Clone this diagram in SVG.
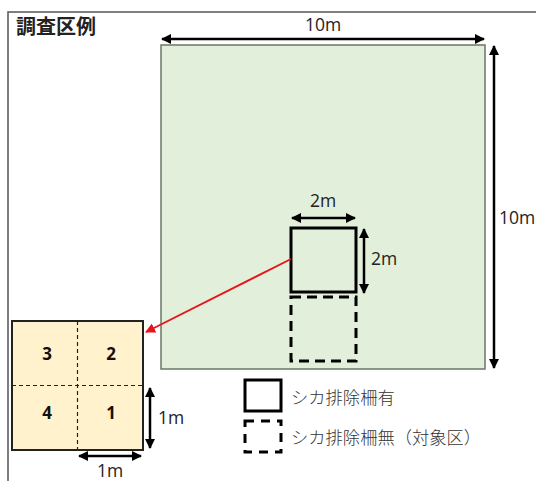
<svg xmlns="http://www.w3.org/2000/svg" width="536" height="481" viewBox="0 0 536 481">
<style>
.t{font-family:"Open Sans","Noto Sans","Noto Sans CJK JP",sans-serif;font-size:17.5px;fill:#222}
.j{font-family:"Noto Sans CJK JP",sans-serif;font-size:17.3px;font-weight:300;fill:#333}
.b{font-family:"Noto Sans","Noto Sans CJK JP",sans-serif;font-size:17px;font-weight:bold;fill:#111;text-anchor:middle}
.dim{stroke:#000;stroke-width:2.5;fill:none;marker-start:url(#ah);marker-end:url(#ah)}
</style>
<defs>
<marker id="ah" viewBox="0 0 10 10" refX="9" refY="5" markerWidth="4.4" markerHeight="4" orient="auto-start-reverse" markerUnits="strokeWidth"><path d="M0,0L10,5L0,10z" fill="#000"/></marker>
<marker id="ar" viewBox="0 0 10 10" refX="9" refY="5" markerWidth="10" markerHeight="10" orient="auto" markerUnits="userSpaceOnUse"><path d="M0,0L10,5L0,10z" fill="#e8141b"/></marker>
</defs>
<rect width="536" height="481" fill="#fff"/>
<path d="M8,490V12H545" fill="none" stroke="#555" stroke-width="1.5"/>
<text x="16" y="34" font-family="Noto Sans CJK JP,sans-serif" font-size="20" font-weight="bold" fill="#222">調査区例</text>
<g id="plot">
<rect x="161" y="45" width="324" height="324" fill="#e2efda" stroke="#6b7766" stroke-width="1.5"/>
</g>
<g id="fenced">
<rect x="291" y="228" width="65" height="64" fill="none" stroke="#000" stroke-width="3"/>
</g>
<g id="unfenced">
<rect x="291" y="297" width="65" height="64" fill="none" stroke="#000" stroke-width="3" stroke-dasharray="10,6"/>
</g>
<g id="quadrat">
<rect x="12" y="321" width="131" height="129" fill="#fff2cc" stroke="#222" stroke-width="2"/>
<line x1="77.5" y1="321" x2="77.5" y2="450" stroke="#222" stroke-width="1.2" stroke-dasharray="4,3"/>
<line x1="12" y1="385.5" x2="143" y2="385.5" stroke="#222" stroke-width="1.2" stroke-dasharray="4,3"/>
<text class="b" x="47" y="360">3</text>
<text class="b" x="111" y="360">2</text>
<text class="b" x="47" y="419">4</text>
<text class="b" x="111" y="419">1</text>
</g>
<g id="legend">
<rect x="245" y="380" width="36" height="31" fill="none" stroke="#000" stroke-width="3"/>
<rect x="245" y="421" width="36" height="31" fill="none" stroke="#000" stroke-width="3" stroke-dasharray="9,7"/>
<text class="j" x="291" y="404">シカ排除柵有</text>
<text class="j" x="291" y="444">シカ排除柵無（対象区）</text>
</g>
<g id="connectors">
<line class="dim" x1="162" y1="39" x2="484" y2="39"/>
<line class="dim" x1="494" y1="46" x2="494" y2="368"/>
<line class="dim" x1="292" y1="218" x2="355" y2="218"/>
<line class="dim" x1="364" y1="229" x2="364" y2="293"/>
<line class="dim" x1="150" y1="388" x2="150" y2="448"/>
<line class="dim" x1="79" y1="456" x2="141" y2="456"/>
<line x1="291" y1="259" x2="146" y2="332" stroke="#e8141b" stroke-width="1.8" marker-end="url(#ar)"/>
</g>
<g id="labels">
<text class="t" x="323" y="31" text-anchor="middle">10m</text>
<text class="t" x="499" y="224">10m</text>
<text class="t" x="323" y="207" text-anchor="middle">2m</text>
<text class="t" x="371" y="265">2m</text>
<text class="t" x="158" y="424">1m</text>
<text class="t" x="110" y="477" text-anchor="middle">1m</text>
</g>
</svg>
